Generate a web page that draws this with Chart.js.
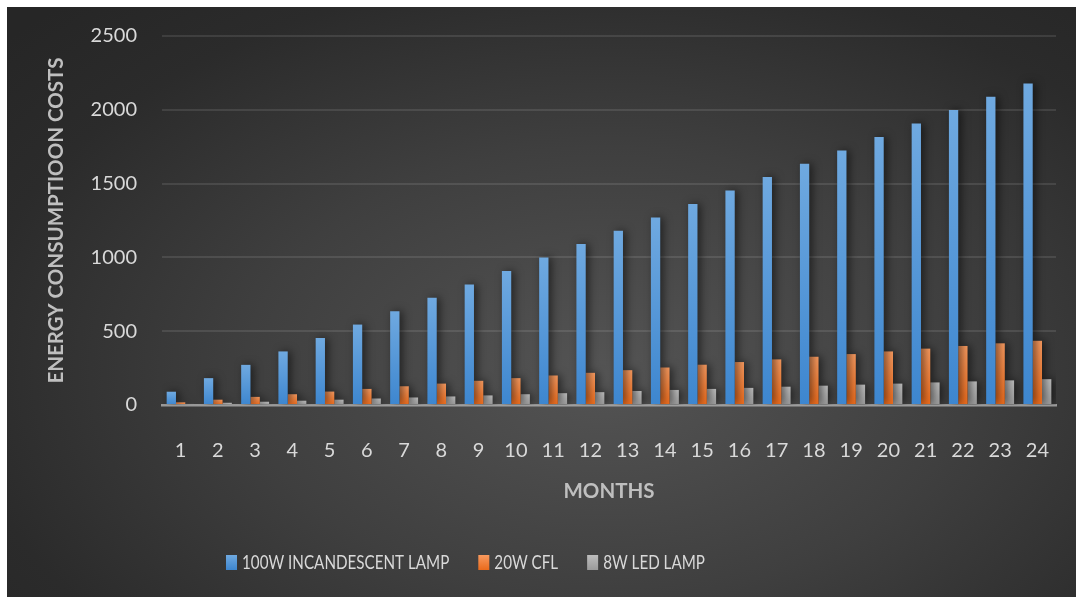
<!DOCTYPE html>
<html>
<head>
<meta charset="utf-8">
<script src="https://cdn.jsdelivr.net/npm/chart.js@4.4.1/dist/chart.umd.min.js"></script>
<style>
  html, body { margin: 0; padding: 0; background: #fff; }
  .panel {
    position: absolute; left: 7px; top: 7px; width: 1069px; height: 590px;
    background: radial-gradient(ellipse 75% 85% at 56% 62%, #545454 0%, #3f3f3f 45%, #2b2b2b 80%, #262626 100%);
  }
</style>
</head>
<body>
<div class="panel"><canvas id="energyChart" width="1069" height="590"></canvas></div>
<script>
// data
const months = ['1','2','3','4','5','6','7','8','9','10','11','12','13','14','15','16','17','18','19','20','21','22','23','24'];
const incandescent = [90, 182, 272, 363, 454, 545, 636, 726, 817, 908, 999, 1090, 1180, 1271, 1362, 1453, 1544, 1634, 1725, 1816, 1907, 1998, 2088, 2178];
const cfl = [18, 36, 55, 73, 91, 109, 127, 145, 164, 182, 200, 218, 236, 254, 273, 291, 309, 327, 345, 363, 382, 400, 418, 435];
const led = [7, 15, 22, 29, 36, 44, 51, 58, 65, 73, 80, 87, 95, 102, 109, 116, 124, 131, 138, 145, 153, 160, 167, 175];
const yTicks = [0, 500, 1000, 1500, 2000, 2500];

const textColor = '#d9d9d9';
const titleColor = '#bfbfbf';

// gradient per bar, lighter at the top
function barFill(top, bottom) {
  return function(context) {
    const chart = context.chart;
    const y = chart.scales.y;
    if (!y || context.parsed === undefined) return bottom;
    const y0 = y.getPixelForValue(0);
    const y1 = y.getPixelForValue(context.parsed.y);
    if (!isFinite(y1) || y0 === y1) return bottom;
    const g = chart.ctx.createLinearGradient(0, y1, 0, y0);
    g.addColorStop(0, top);
    g.addColorStop(1, bottom);
    return g;
  };
}

const series = [
  { label: '100W INCANDESCENT LAMP', data: incandescent, top: '#6fa9e0', bottom: '#3d86cf' },
  { label: '20W CFL', data: cfl, top: '#f89a5f', bottom: '#ea6a1b' },
  { label: '8W LED LAMP', data: led, top: '#bdbdbd', bottom: '#9a9a9a' }
];

// soft shadow behind the bars
const barShadow = {
  id: 'barShadow',
  beforeDatasetsDraw(chart) {
    const ctx = chart.ctx;
    ctx.save();
    ctx.shadowColor = 'rgba(0,0,0,0.55)';
    ctx.shadowBlur = 8;
    ctx.shadowOffsetX = 3;
    ctx.shadowOffsetY = 0;
  },
  afterDatasetsDraw(chart) {
    chart.ctx.restore();
  }
};

// legend drawn at the bottom, left of centre like the original
// (text squeezed a little to get closer to the narrow original font)
const bottomLegend = {
  id: 'bottomLegend',
  afterDraw(chart) {
    const ctx = chart.ctx;
    const squeeze = 0.76;
    ctx.save();
    ctx.font = '20px Lato';
    ctx.textBaseline = 'middle';
    ctx.textAlign = 'left';
    let x = 219;
    const y = 555;
    chart.data.datasets.forEach((ds, i) => {
      const s = series[i];
      const g = ctx.createLinearGradient(0, y - 7, 0, y + 8);
      g.addColorStop(0, s.top);
      g.addColorStop(1, s.bottom);
      ctx.fillStyle = g;
      ctx.fillRect(x, y - 7, 11, 15);
      x += 16;
      ctx.save();
      ctx.translate(x, y + 1);
      ctx.scale(squeeze, 1);
      ctx.fillStyle = textColor;
      ctx.fillText(ds.label, 0, 0);
      ctx.restore();
      x += ctx.measureText(ds.label).width * squeeze + 29;
    });
    ctx.restore();
  }
};

const ctx = document.getElementById('energyChart').getContext('2d');
const energyChart = new Chart(ctx, {
  type: 'bar',
  data: {
    labels: months,
    datasets: series.map(s => ({
      label: s.label,
      data: s.data,
      backgroundColor: barFill(s.top, s.bottom),
      borderWidth: 0,
      categoryPercentage: 0.75,
      barPercentage: 1
    }))
  },
  options: {
    responsive: false,
    animation: false,
    layout: { padding: { left: 37, right: 20, top: 29, bottom: 0 } },
    plugins: {
      legend: { display: false },
      tooltip: { enabled: false }
    },
    scales: {
      x: {
        grid: { display: false },
        border: { display: true, color: 'rgba(185,185,185,0.75)', width: 2.5 },
        ticks: { color: textColor, font: { family: 'Lato', size: 20 }, padding: 26, maxRotation: 0, autoSkip: false },
        title: {
          display: true, text: 'MONTHS', color: titleColor,
          font: { family: 'Lato', size: 20.5, weight: 'bold' },
          padding: { top: 0, bottom: 93 }
        },
        afterFit: s => { s.height = 192; }
      },
      y: {
        min: 0,
        max: 2500,
        afterBuildTicks: s => { s.ticks = yTicks.map(v => ({ value: v })); },
        grid: {
          drawTicks: false,
          color: c => (c.tick && c.tick.value === 0) ? 'rgba(0,0,0,0)' : 'rgba(255,255,255,0.1)',
          lineWidth: 2
        },
        border: { display: false },
        ticks: { color: textColor, font: { family: 'Lato', size: 20 }, padding: 25, callback: v => String(v) },
        title: {
          display: true, text: 'ENERGY CONSUMPTIOON COSTS', color: titleColor,
          font: { family: 'Lato', size: 20.5, weight: 'bold' },
          padding: { top: 0, bottom: 0 }
        },
        afterFit: s => {
          s.width = 118;
          s.paddingTop = 0;
          s.paddingBottom = 0;
        }
      }
    }
  },
  plugins: [barShadow, bottomLegend]
});
</script>
</body>
</html>
